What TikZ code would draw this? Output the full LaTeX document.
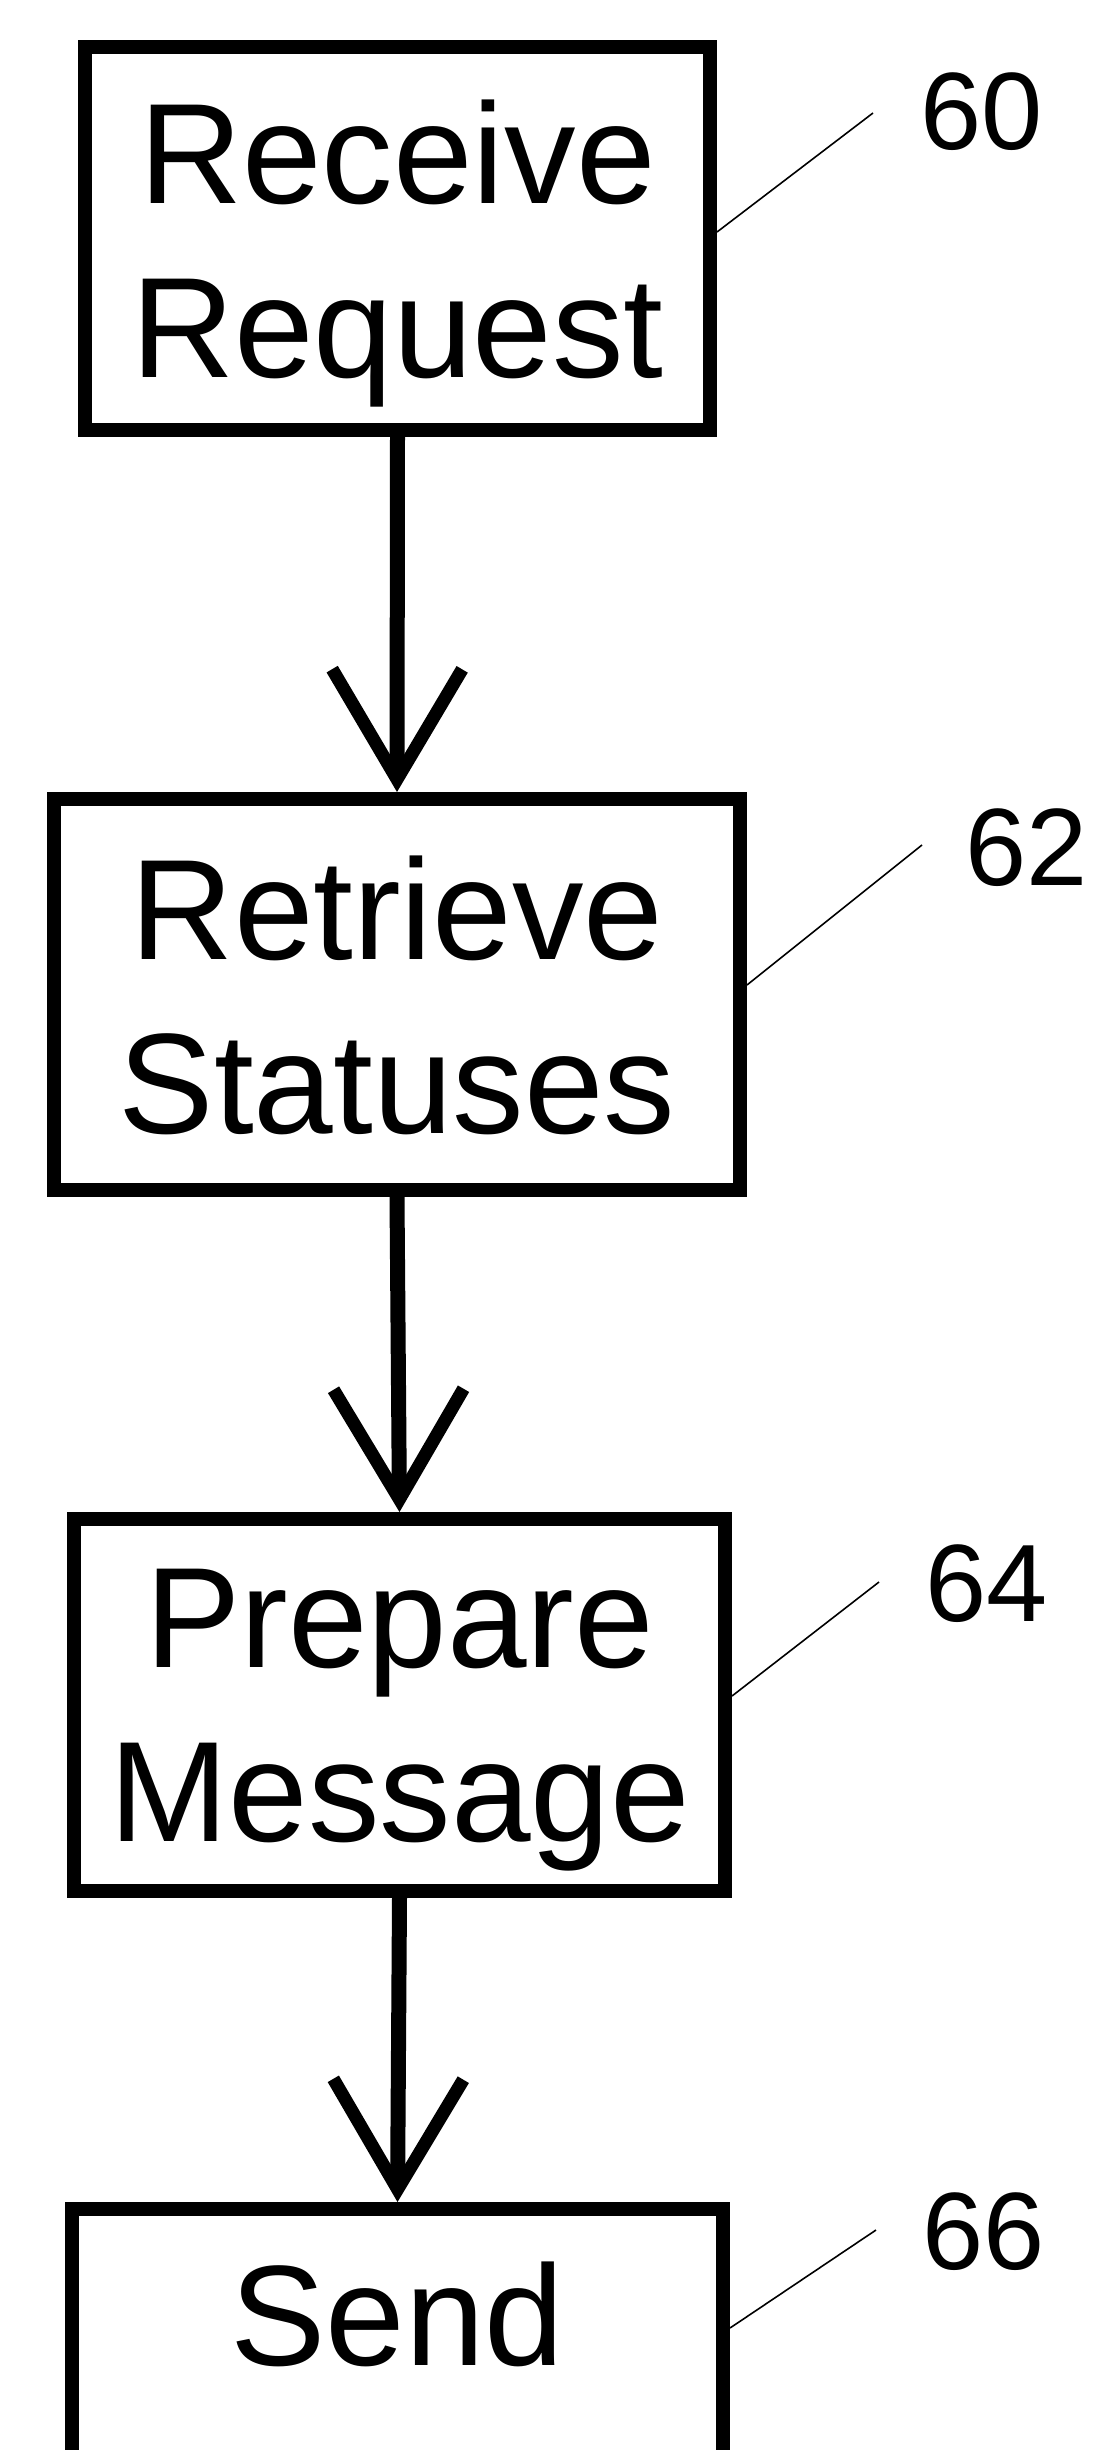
\documentclass[tikz,border=0pt]{standalone}
\usepackage{fontspec}
\setmainfont{Liberation Sans}
\usetikzlibrary{arrows.meta}
\begin{document}
\begin{tikzpicture}[x=1pt,y=-1pt,
  stepbox/.style={draw=black, line width=14pt, rectangle, align=center,
    font=\fontsize{143}{174}\selectfont, inner sep=0pt, text depth=0pt, anchor=north},
  flow/.style={line width=15pt, -{Straight Barb[length=110pt,width=130pt,line width=13pt]}},
  leader/.style={line width=1.6pt},
  refnum/.style={font=\fontsize{110}{110}\selectfont, inner sep=0pt}]
\useasboundingbox (0,0) rectangle (1106,2450);
\clip (0,0) rectangle (1106,2450);
\fill[white] (0,0) rectangle (1106,2450);

% process steps
\node[stepbox, minimum width=625pt, minimum height=383pt] (b1) at (397.5,40) {Receive\\Request};
\node[stepbox, minimum width=686pt, minimum height=391pt] (b2) at (397,792) {Retrieve\\Statuses};
\node[stepbox, minimum width=651pt, minimum height=372pt] (b3) at (399.5,1512) {Prepare\\Message};
\node[stepbox, minimum width=651pt, text height=103pt, text depth=160pt, inner ysep=53pt] (b4) at (397.5,2202) {Send};

% flow between steps
\draw[flow] (b1.south) -- (b2.north);
\draw[flow] (b2.south) -- (b3.north);
\draw[flow] (b3.south) -- (b4.north);

% reference numerals
\node[refnum] (l60) at (982,112) {60};
\node[refnum] (l62) at (1027,848) {62};
\node[refnum] (l64) at (987,1584) {64};
\node[refnum] (l66) at (983.5,2232) {66};

\coordinate (t60) at (873,113);
\coordinate (t62) at (922,845);
\coordinate (t64) at (879,1582);
\coordinate (t66) at (876,2230);

\draw[leader] ([yshift=-192pt]b1.north east) -- (t60);
\draw[leader] ([yshift=-193pt]b2.north east) -- (t62);
\draw[leader] ([yshift=-184pt]b3.north east) -- (t64);
\draw[leader] ([yshift=-126pt]b4.north east) -- (t66);
\end{tikzpicture}
\end{document}
